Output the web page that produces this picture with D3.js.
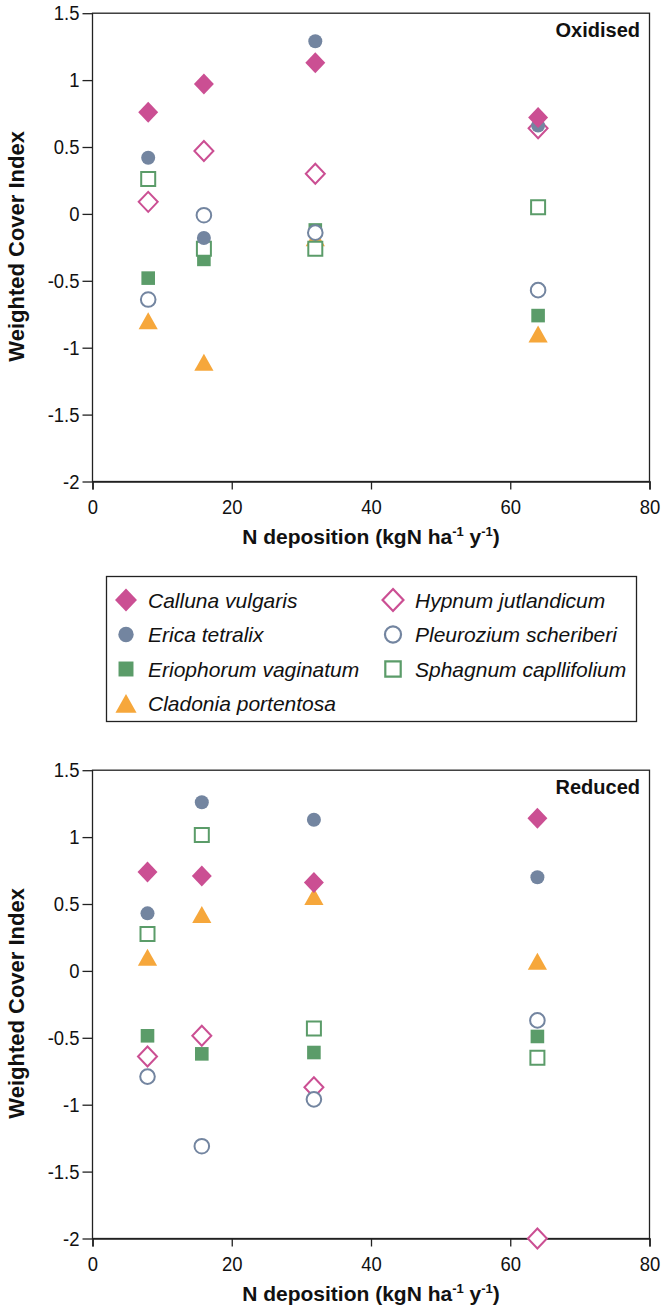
<!DOCTYPE html>
<html><head><meta charset="utf-8">
<script src="https://cdn.jsdelivr.net/npm/d3@7"></script>
<style>
body{margin:0;background:#fff}
svg{display:block}
text{font-family:"Liberation Sans",Arial,Helvetica,sans-serif;fill:#111}
</style>
</head><body>
<svg id="chart" width="664" height="1307"></svg>
<script>
// ---------------- data ----------------
const speciesNames = ["Calluna vulgaris","Erica tetralix","Eriophorum vaginatum","Cladonia portentosa",
                      "Hypnum jutlandicum","Pleurozium scheriberi","Sphagnum capllifolium"];
const speciesShapes = ["diamond","circle","square","triangle","diamond","circle","square"];
const speciesFilled = [true,true,true,true,false,false,false];
const speciesColors = ["#cb4f93","#7385a0","#5b9c69","#f6a73b","#cb4f93","#7385a0","#5b9c69"];

const xTicks = [0,20,40,60,80];
const xTickLabels = ["0","20","40","60","80"];
const yTicks = [1.5,1,0.5,0,-0.5,-1,-1.5,-2];
const yTickLabels = ["1.5","1","0.5","0","-0.5","-1","-1.5","-2"];

// Oxidised panel
const oxidisedX = [8, 16, 32, 64];
const oxCalluna    = [0.76, 0.97, 1.13, 0.72];
const oxErica      = [0.42, -0.18, 1.29, 0.66];
const oxEriophorum = [-0.48, -0.34, -0.12, -0.76];
const oxCladonia   = [-0.80, -1.11, -0.18, -0.90];
const oxHypnum     = [0.09, 0.47, 0.30, 0.64];
const oxPleurozium = [-0.64, -0.01, -0.14, -0.57];
const oxSphagnum   = [0.26, -0.26, -0.26, 0.05];

// Reduced panel
const reducedX = [7.9, 15.7, 31.8, 63.9];
const reCalluna    = [0.74, 0.71, 0.66, 1.14];
const reErica      = [0.43, 1.26, 1.13, 0.70];
const reEriophorum = [-0.485, -0.62, -0.61, -0.49];
const reCladonia   = [0.10, 0.42, 0.555, 0.07];
const reHypnum     = [-0.64, -0.485, -0.87, -2.0];
const rePleurozium = [-0.79, -1.31, -0.96, -0.37];
const reSphagnum   = [0.275, 1.015, -0.43, -0.65];

const panels = [
  {title:"Oxidised", x: oxidisedX, series:[oxCalluna,oxErica,oxEriophorum,oxCladonia,oxHypnum,oxPleurozium,oxSphagnum]},
  {title:"Reduced",  x: reducedX,  series:[reCalluna,reErica,reEriophorum,reCladonia,reHypnum,rePleurozium,reSphagnum]}
];
const drawOrder = [4,2,3,5,6,1,0];

// ---------------- drawing ----------------
const svg = d3.select("#chart");

function markerPath(shape, filled){
  const p = d3.path();
  if(shape==="diamond"){
    const h = filled?10.5:10;
    p.moveTo(0,-h);p.lineTo(h*0.95,0);p.lineTo(0,h);p.lineTo(-h*0.95,0);p.closePath();
  } else if(shape==="circle"){
    const r = filled?7:7.3;
    p.arc(0,0,r,0,2*Math.PI);p.closePath();
  } else if(shape==="square"){
    const s = filled?6.8:7;
    p.rect(-s,-s,2*s,2*s);
  } else if(shape==="triangle"){
    p.moveTo(0,-8.7);p.lineTo(9.6,8.3);p.lineTo(-9.6,8.3);p.closePath();
  }
  return p.toString();
}
function drawMarker(g, i, cx, cy, scale){
  const filled = speciesFilled[i];
  g.append("path")
    .attr("d", markerPath(speciesShapes[i], filled))
    .attr("transform", `translate(${cx},${cy}) scale(${scale||1})`)
    .attr("fill", filled ? speciesColors[i] : "#fff")
    .attr("stroke", filled ? "none" : speciesColors[i])
    .attr("stroke-width", filled ? 0 : 2);
}

const left = 92.5, right = 649.5;
const tops = [13.2, 770.2];
const plotH = 468.3;
const tickFont = 20.5, tickSqueeze = 0.9;

panels.forEach((panel, pi) => {
  const top = tops[pi], bottom = top + plotH;
  const x = d3.scaleLinear().domain([0,80]).range([left,right]);
  const y = d3.scaleLinear().domain([-2,1.5]).range([bottom,top]);
  const g = svg.append("g");

  // frame
  g.append("rect").attr("x",left).attr("y",top).attr("width",right-left).attr("height",bottom-top)
    .attr("fill","none").attr("stroke","#222").attr("stroke-width",1.3);

  // axes
  const ya = d3.axisLeft(y).tickValues(yTicks).tickSize(10).tickPadding(3)
    .tickFormat((d,i)=>yTickLabels[i]);
  const yg = g.append("g").attr("transform",`translate(${left},0)`).call(ya);
  yg.select(".domain").remove();
  yg.selectAll("line").attr("stroke","#222").attr("stroke-width",1.3);
  yg.selectAll("text").attr("font-size",tickFont).attr("fill","#111")
    .attr("x", -13/tickSqueeze)
    .attr("transform",`scale(${tickSqueeze},1)`)
    .style("font-family",'"Liberation Sans",Arial,sans-serif');

  const xa = d3.axisBottom(x).tickValues(xTicks).tickSize(8).tickPadding(10)
    .tickFormat((d,i)=>xTickLabels[i]);
  const xg = g.append("g").attr("transform",`translate(0,${bottom})`).call(xa);
  xg.select(".domain").attr("stroke","#222").attr("stroke-width",1.6);
  xg.selectAll("line").attr("stroke","#222").attr("stroke-width",1.3);
  xg.selectAll("text").attr("font-size",tickFont).attr("fill","#111")
    .attr("transform",`scale(${tickSqueeze},1)`)
    .style("font-family",'"Liberation Sans",Arial,sans-serif');

  // axis titles
  const xt = g.append("text").attr("x",(left+right)/2).attr("y",bottom+62)
    .attr("text-anchor","middle").attr("font-size",21).attr("font-weight","bold");
  xt.append("tspan").text("N deposition (kgN ha");
  xt.append("tspan").attr("font-size",13).attr("dy",-8).text("-1");
  xt.append("tspan").attr("dy",8).text(" y");
  xt.append("tspan").attr("font-size",13).attr("dy",-8).text("-1");
  xt.append("tspan").attr("dy",8).text(")");

  g.append("text").attr("transform",`translate(24,${(top+bottom)/2 - 1}) rotate(-90)`)
    .attr("text-anchor","middle").attr("font-size",22).attr("font-weight","bold")
    .text("Weighted Cover Index");

  // panel label
  g.append("text").attr("x",640).attr("y",top+23.5).attr("text-anchor","end")
    .attr("font-size",20).attr("font-weight","bold").text(panel.title);

  // markers
  const mg = g.append("g");
  drawOrder.forEach(si => {
    panel.series[si].forEach((v, k) => {
      drawMarker(mg, si, x(panel.x[k]), y(v));
    });
  });
});

// ---------------- legend ----------------
const lg = svg.append("g");
lg.append("rect").attr("x",106.5).attr("y",576.5).attr("width",530).attr("height",145)
  .attr("fill","#fff").attr("stroke","#222").attr("stroke-width",1.3);
const legendRows = [600, 634.5, 669, 703.5];
const legendCols = [{mx:126, tx:148},{mx:393, tx:415}];
speciesNames.forEach((name, i) => {
  const col = i < 4 ? 0 : 1;
  const row = i < 4 ? i : i - 4;
  const cy = legendRows[row];
  drawMarker(lg, i, legendCols[col].mx, cy, 1.1);
  lg.append("text").attr("x",legendCols[col].tx).attr("y",cy+7.5)
    .attr("font-size",21).attr("font-style","italic").text(name);
});
</script>
</body></html>
